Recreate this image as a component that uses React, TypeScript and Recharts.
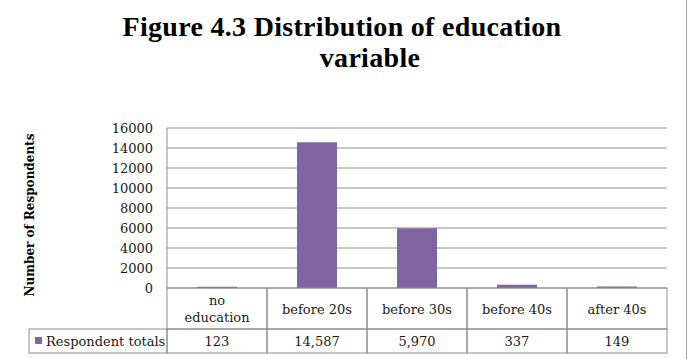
import React from 'react';
import { BarChart, Bar, XAxis, YAxis, CartesianGrid } from 'recharts';

const categories = ['no education', 'before 20s', 'before 30s', 'before 40s', 'after 40s'];
const respondentTotals = [123, 14587, 5970, 337, 149];
const yTicks = [0, 2000, 4000, 6000, 8000, 10000, 12000, 14000, 16000];
const seriesName = 'Respondent totals';

const data = categories.map((c, i) => ({ category: c, total: respondentTotals[i] }));

const BAR_COLOR = '#8064A2';
const LINE = '#8c8c8c';
const FONT = '"DejaVu Serif", serif';

const CHART_W = 690;
const CHART_H = 359;
const MARGIN = { top: 128, right: 23, bottom: 6, left: 0 };
const Y_AXIS_W = 167;
const PLOT_W = CHART_W - MARGIN.right - MARGIN.left - Y_AXIS_W;
const BAND = PLOT_W / categories.length;
const ROW1 = 41;
const ROW2 = 24;
const LEGEND_LEFT = 29;

// label wrap like the table cell does it
const wrap = (s: string) => (s.length > 11 ? s.split(' ') : [s]);

const TableTick = (props: any) => {
  const { x, y, payload, index } = props;
  const lines = wrap(payload.value);
  const value = respondentTotals[index];
  const left = x - BAND / 2;
  return (
    <g>
      <rect x={left} y={y} width={BAND} height={ROW1} fill="none" stroke={LINE} />
      <rect x={left} y={y + ROW1} width={BAND} height={ROW2} fill="none" stroke={LINE} />
      <text x={x} y={y + ROW1 / 2 + 5 - (lines.length - 1) * 8.5} textAnchor="middle" fontFamily={FONT} fontSize={13} fill="#1a1a1a">
        {lines.map((l, i) => (
          <tspan key={i} x={x} dy={i === 0 ? 0 : 17}>{l}</tspan>
        ))}
      </text>
      <text x={x} y={y + ROW1 + ROW2 / 2 + 5} textAnchor="middle" fontFamily={FONT} fontSize={13} fill="#1a1a1a">
        {value.toLocaleString('en-US')}
      </text>
      {index === 0 && (
        <g>
          <rect x={LEGEND_LEFT} y={y + ROW1} width={left - LEGEND_LEFT} height={ROW2} fill="none" stroke={LINE} />
          <rect x={LEGEND_LEFT + 6} y={y + ROW1 + 8} width={7} height={7} fill={BAR_COLOR} />
          <text x={LEGEND_LEFT + 17} y={y + ROW1 + ROW2 / 2 + 5} fontFamily={FONT} fontSize={13} fill="#1a1a1a">
            {seriesName}
          </text>
        </g>
      )}
    </g>
  );
};

const App: React.FC = () => {
  return (
    <div style={{ position: 'absolute', left: 0, top: 0, width: CHART_W, height: CHART_H, background: '#fff' }}>
      <div
        style={{
          position: 'absolute',
          left: 0,
          top: 11,
          width: 684,
          textAlign: 'center',
          fontFamily: '"Liberation Serif", serif',
          fontWeight: 'bold',
          fontSize: 28,
          letterSpacing: 0.3,
          lineHeight: '31px',
          color: '#000',
        }}
      >
        <div>Figure 4.3 Distribution of education</div>
        <div style={{ paddingLeft: 56 }}>variable</div>
      </div>
      <div style={{ position: 'absolute', right: 3, top: 0, width: 1, height: CHART_H, background: '#a0a0a0' }} />
      <BarChart width={CHART_W} height={CHART_H} data={data} margin={MARGIN} barCategoryGap="30%">
        <CartesianGrid vertical={false} stroke={LINE} />
        <XAxis
          dataKey="category"
          axisLine={false}
          tickLine={false}
          tickSize={0}
          tickMargin={0}
          height={ROW1 + ROW2}
          interval={0}
          tick={<TableTick />}
        />
        <YAxis
          domain={[0, 16000]}
          ticks={yTicks}
          interval={0}
          width={Y_AXIS_W}
          tickLine={false}
          tickSize={0}
          tickMargin={14}
          axisLine={{ stroke: LINE }}
          tick={{ fontFamily: FONT, fontSize: 13, fill: '#1a1a1a' }}
          label={{
            value: 'Number of Respondents',
            angle: -90,
            position: 'insideLeft',
            offset: 0,
            dx: 30,
            dy: 7,
            style: { fontFamily: FONT, fontWeight: 'bold', fontSize: 12, fill: '#000', textAnchor: 'middle' },
          }}
        />
        <Bar dataKey="total" name={seriesName} fill={BAR_COLOR} isAnimationActive={false} />
      </BarChart>
    </div>
  );
};

export default App;
